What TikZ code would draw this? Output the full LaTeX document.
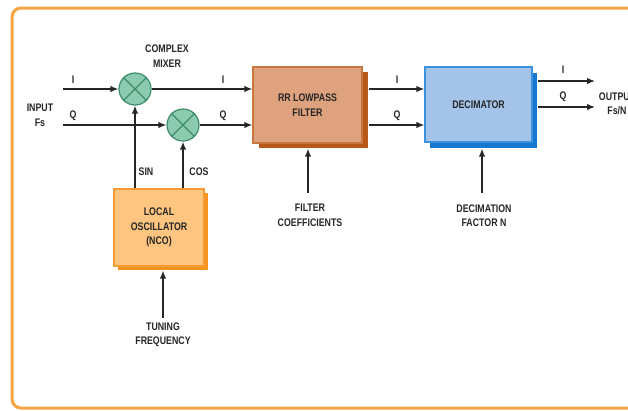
\documentclass[tikz,border=0pt]{standalone}
\usepackage{fontspec}
\setmainfont{Liberation Sans}[FakeStretch=0.8]
\usetikzlibrary{arrows.meta,shadows}

\definecolor{frameorange}{HTML}{F7A445}
\definecolor{mixfill}{HTML}{8DCBB1}
\definecolor{mixline}{HTML}{3E8C6C}
\definecolor{firfill}{HTML}{DFA27E}
\definecolor{firline}{HTML}{C9773F}
\definecolor{firshade}{HTML}{B9581B}
\definecolor{decfill}{HTML}{A4C3E9}
\definecolor{decline}{HTML}{3D92DD}
\definecolor{decshade}{HTML}{1678CF}
\definecolor{ncofill}{HTML}{FDC57F}
\definecolor{ncoline}{HTML}{F39B32}
\definecolor{ncoshade}{HTML}{F7931E}
\definecolor{ink}{HTML}{262626}

\begin{document}
\begin{tikzpicture}[x=1pt,y=-1pt,
  every node/.style={font=\fontsize{11}{14.5}\selectfont\bfseries, text=ink, align=center, inner sep=0pt},
  sig/.style={draw=ink, line width=1.4pt, -{Latex[length=8pt,width=6.5pt]}},
  block/.style={rectangle, line width=1.2pt, inner sep=0pt},
  mixer/.style={circle, minimum size=32pt, fill=mixfill, draw=mixline, line width=1.2pt},
  lbl/.style={font=\fontsize{11}{14.5}\selectfont\bfseries}]

\useasboundingbox (0,0) rectangle (628,410);

% outer frame
\draw[frameorange, line width=3pt, rounded corners=9pt] (12,8) rectangle (660,408);

% blocks
\node[block, mixer] (m1) at (135,89) {};
\node[block, mixer] (m2) at (183,125) {};
\foreach \m in {m1,m2}{
  \draw[mixline, line width=1.4pt] (\m.north west) -- (\m.south east)
                                   (\m.north east) -- (\m.south west);
}

\node[block, fill=firfill, draw=firline, minimum width=109pt, minimum height=76pt,
      general shadow={fill=firshade, shadow xshift=6pt, shadow yshift=-5pt}]
      (f) at (307.5,105) {RR LOWPASS\\FILTER};
\node[block, fill=decfill, draw=decline, minimum width=107pt, minimum height=75pt,
      general shadow={fill=decshade, shadow xshift=5pt, shadow yshift=-6pt}]
      (d) at (478.5,104.5) {DECIMATOR};
\node[block, fill=ncofill, draw=ncoline, minimum width=90pt, minimum height=77pt,
      general shadow={fill=ncoshade, shadow xshift=4pt, shadow yshift=-4pt}]
      (n) at (159,227.5) {LOCAL\\OSCILLATOR\\(NCO)};

% free ends of the connectors
\coordinate (ini) at (63,89);
\coordinate (inq) at (63,125);
\coordinate (outi) at (595,81);
\coordinate (outq) at (595,107);
\coordinate (fc) at (308,193);
\coordinate (dn) at (482,193);
\coordinate (tf) at (163,318);

% oscillator to mixers
\draw[sig] (m1 |- n.north) -- (m1.south);
\draw[sig] (m2 |- n.north) -- (m2.south);

% input paths
\draw[sig] (ini) -- (m1.west);
\draw[sig] (inq) -- (m2.west);

% mixer to filter
\draw[sig] (m1.east) -- (m1.east -| f.west);
\draw[sig] (m2.east) -- (m2.east -| f.west);

% filter to decimator
\draw[sig] ([xshift=6pt]f.east |- m1) -- (d.west |- m1);
\draw[sig] ([xshift=6pt]f.east |- m2) -- (d.west |- m2);

% decimator outputs
\draw[sig] ([xshift=5pt]d.east |- outi) -- (outi);
\draw[sig] ([xshift=5pt]d.east |- outq) -- (outq);

% control inputs
\draw[sig] (fc) -- ([yshift=-5pt]fc |- f.south);
\draw[sig] (dn) -- ([yshift=-6pt]dn |- d.south);
\draw[sig] (tf) -- ([yshift=-4pt]tf |- n.south);

% labels
\node[lbl] (li1) at (73,80) {I};
\node[lbl] (lq1) at (73,116) {Q};
\node[lbl] (lin) at (40,115.5) {INPUT\\Fs};
\node[lbl] (lcm) at (167,56) {COMPLEX\\MIXER};
\node[lbl] (li2) at (223,80) {I};
\node[lbl] (lq2) at (223,116) {Q};
\node[lbl] (li3) at (397,80) {I};
\node[lbl] (lq3) at (397,116) {Q};
\node[lbl] (li4) at (563,70) {I};
\node[lbl] (lq4) at (563,97) {Q};
\node[lbl] (lout) at (617,104) {OUTPUT\\Fs/N};
\node[lbl] (lsin) at (146,172) {SIN};
\node[lbl] (lcos) at (199,172) {COS};
\node[lbl] (lfc) at (310,215.5) {FILTER\\COEFFICIENTS};
\node[lbl] (ldn) at (484,215.5) {DECIMATION\\FACTOR N};
\node[lbl] (ltf) at (163,334.5) {TUNING\\FREQUENCY};
\end{tikzpicture}
\end{document}
